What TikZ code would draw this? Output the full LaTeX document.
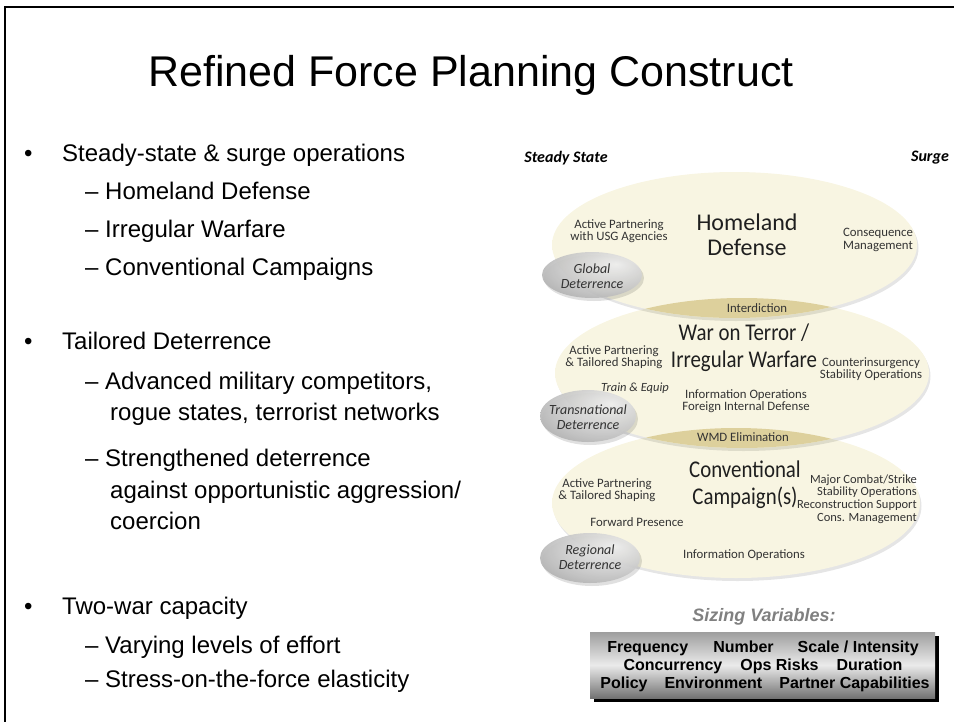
\documentclass[tikz,border=0pt]{standalone}
\usepackage{fontspec}
\setmainfont{Liberation Sans}
\newfontfamily\elfont{Carlito}
\newfontfamily\elcond[FakeStretch=0.87]{Carlito}
\definecolor{cream}{HTML}{F8F5E2}
\definecolor{tanedge}{HTML}{E3D8A8}
\definecolor{lenscol}{HTML}{DDD09C}
\definecolor{txtgray}{HTML}{333333}
\pgfdeclareradialshading{ellsh}{\pgfpoint{0bp}{0bp}}{color(0bp)=(cream); color(26bp)=(cream); color(50bp)=(tanedge)}
\pgfdeclareradialshading{graysh}{\pgfpoint{12bp}{12bp}}{color(0bp)=(black!6); color(25bp)=(black!22); color(60bp)=(black!50); color(80bp)=(black!55)}
\begin{document}
\begin{tikzpicture}[x=1pt,y=-1pt,
  bigell/.style={shading=ellsh},
  grayell/.style={shading=graysh, opacity=0.92},
  ellshadow/.style={fill=black, opacity=0.10},
  lbl/.style={font=\elfont\fontsize{12.8}{12.5}\selectfont, text=txtgray, align=center, inner sep=0pt},
  lblr/.style={font=\elfont\fontsize{12.5}{12.7}\selectfont, text=txtgray, align=right, inner sep=0pt},
  lbli/.style={font=\elfont\itshape\fontsize{12.5}{12.5}\selectfont, text=txtgray, align=center, inner sep=0pt},
  big/.style={font=\elcond\fontsize{24}{27}\selectfont, text=black!88, align=center, inner sep=0pt},
  bigh/.style={font=\elfont\fontsize{24}{25}\selectfont, text=black!88, align=center, inner sep=0pt},
  glbl/.style={font=\elfont\itshape\fontsize{14}{15}\selectfont, text=txtgray, align=center, inner sep=0pt},
  head/.style={font=\elfont\bfseries\itshape\fontsize{16}{16}\selectfont, inner sep=0pt},
  bul/.style={font=\fontsize{24}{29}\selectfont, anchor=base west, inner sep=0pt},
  svar/.style={font=\bfseries\fontsize{16}{18}\selectfont, anchor=base, inner sep=0pt}]
\useasboundingbox (0,0) rectangle (954,721);
% frame
\draw[line width=2pt] (5,722) -- (5,7) -- (955,7);
% title
\node[font=\fontsize{43}{43}\selectfont, anchor=base, inner sep=0pt] (title) at (471,86) {Refined Force Planning Construct};
% left bullets
\node[bul] (b1d) at (24,161) {\textbullet};
\node[bul] (b1) at (62,161) {Steady-state \& surge operations};
\node[bul] (b1a) at (85,199) {\textendash\ Homeland Defense};
\node[bul] (b1b) at (85,237) {\textendash\ Irregular Warfare};
\node[bul] (b1c) at (85,275) {\textendash\ Conventional Campaigns};
\node[bul] (b2d) at (24,349) {\textbullet};
\node[bul] (b2) at (62,349) {Tailored Deterrence};
\node[bul] (b2a) at (85,389) {\textendash\ Advanced military competitors,};
\node[bul] (b2a2) at (110,420) {rogue states, terrorist networks};
\node[bul] (b2b) at (85,466) {\textendash\ Strengthened deterrence};
\node[bul] (b2b2) at (110,498) {against opportunistic aggression/};
\node[bul] (b2b3) at (110,529) {coercion};
\node[bul] (b3d) at (24,614) {\textbullet};
\node[bul] (b3) at (62,614) {Two-war capacity};
\node[bul] (b3a) at (85,653) {\textendash\ Varying levels of effort};
\node[bul] (b3b) at (85,687) {\textendash\ Stress-on-the-force elasticity};
% headers
\node[head] (steady) at (566,158) {Steady State};
\node[head] (surge) at (930,158) {Surge};
% ellipses: bottom, middle, top
\fill[ellshadow] (737.5,506) ellipse [x radius=184pt, y radius=75pt];
\shade[bigell] (736,503) ellipse [x radius=184pt, y radius=75pt];
\fill[ellshadow] (743.5,376) ellipse [x radius=187pt, y radius=75pt];
\shade[bigell] (742,373) ellipse [x radius=187pt, y radius=75pt];
\fill[ellshadow] (736,248) ellipse [x radius=182.5pt, y radius=73pt];
\shade[bigell] (734.5,245) ellipse [x radius=182.5pt, y radius=73pt];
% lenses
\begin{scope}
\clip (734.5,245) ellipse [x radius=182.5pt, y radius=73pt];
\fill[lenscol] (742,373) ellipse [x radius=187pt, y radius=75pt];
\end{scope}
\begin{scope}
\clip (742,373) ellipse [x radius=187pt, y radius=75pt];
\fill[lenscol] (736,503) ellipse [x radius=184pt, y radius=75pt];
\end{scope}
% gray ellipses
\fill[black, opacity=0.12] (594,278) ellipse [x radius=50pt, y radius=23pt];
\shade[grayell] (592,275) ellipse [x radius=50pt, y radius=23pt];
\fill[black, opacity=0.12] (590,419) ellipse [x radius=48pt, y radius=26pt];
\shade[grayell] (588,416) ellipse [x radius=48pt, y radius=26pt];
\fill[black, opacity=0.12] (592,561) ellipse [x radius=50pt, y radius=25pt];
\shade[grayell] (590,558) ellipse [x radius=50pt, y radius=25pt];
% top ellipse texts
\node[bigh] (hd) at (747,235) {Homeland\\Defense};
\node[lbl] (ap1) at (619,231) {Active Partnering\\with USG Agencies};
\node[lbl] (cm) at (878,240) {Consequence\\Management};
\node[glbl] (gd) at (592,276) {Global\\Deterrence};
\node[lbl] (int) at (757,308) {Interdiction};
% middle ellipse texts
\node[big] (wot) at (744,348) {War on Terror /\\Irregular Warfare};
\node[lbl] (ap2) at (614,357) {Active Partnering\\\& Tailored Shaping};
\node[lbl] (coin) at (871,369) {Counterinsurgency\\Stability Operations};
\node[lbli] (te) at (635,388) {Train \& Equip};
\node[lbl] (io1) at (746,401) {Information Operations\\Foreign Internal Defense};
\node[glbl] (td) at (588,417) {Transnational\\Deterrence};
\node[lbl] (wmd) at (743,437) {WMD Elimination};
% bottom ellipse texts
\node[big] (cc) at (745,485) {Conventional\\Campaign(s)};
\node[lbl] (ap3) at (607,490) {Active Partnering\\\& Tailored Shaping};
\node[lblr, anchor=east] (mcs) at (917,499) {Major Combat/Strike\\Stability Operations\\Reconstruction Support\\Cons. Management};
\node[lbl] (fp) at (637,522) {Forward Presence};
\node[glbl] (rd) at (590,557) {Regional\\Deterrence};
\node[lbl] (io2) at (744,555) {Information Operations};
% sizing variables
\node[font=\bfseries\itshape\fontsize{18}{18}\selectfont, text=black!50, inner sep=0pt] (sv) at (764,617) {Sizing Variables:};
\fill[black] (594,636) rectangle (939,702);
\shade[top color=black!38, bottom color=black!55, middle color=black!8] (590,632) rectangle (935,698);
\node[svar] (l1) at (763,652) {Frequency\hspace{25pt}Number\hspace{24pt}Scale / Intensity};
\node[svar] (l2) at (763,670) {Concurrency\hspace{18pt}Ops Risks\hspace{18pt}Duration};
\node[svar] (l3) at (765,688) {Policy\hspace{17pt}Environment\hspace{17pt}Partner Capabilities};
\end{tikzpicture}
\end{document}
